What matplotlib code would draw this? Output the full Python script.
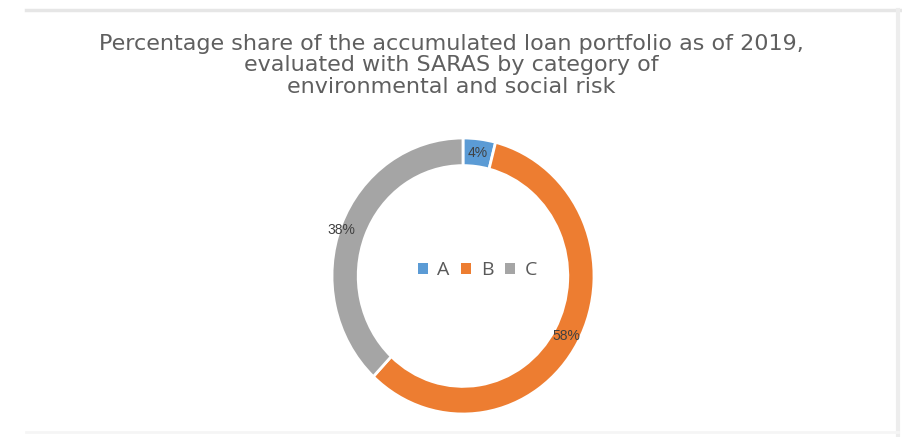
import matplotlib
matplotlib.use("Agg")
import matplotlib.pyplot as plt
from matplotlib.lines import Line2D
from matplotlib.patches import Patch

categories = ["A", "B", "C"]
shares = [4, 58, 38]
colors = ["#5B9BD5", "#ED7D31", "#A5A5A5"]
title = ("Percentage share of the accumulated loan portfolio as of 2019,\n"
         "evaluated with SARAS by category of\n"
         "environmental and social risk")

W, H = 902, 437
fig = plt.figure(figsize=(W / 100, H / 100), dpi=100)
fig.patch.set_facecolor("white")

# panel frame
fig.add_artist(Line2D([26 / W, 1.0], [1 - 10 / H, 1 - 10 / H], color="#e6e6e6",
                      linewidth=2.5, transform=fig.transFigure))
fig.add_artist(Line2D([898 / W, 898 / W], [1 - 10 / H, 0.0], color="#ededed",
                      linewidth=3, transform=fig.transFigure))
fig.add_artist(Line2D([26 / W, 898 / W], [5 / H, 5 / H], color="#f5f5f5",
                      linewidth=2, transform=fig.transFigure))

fig.text(0.5, 1 - 34 / H, title, ha="center", va="top", fontsize=16,
         family="DejaVu Sans", color="#5f5f5f", linespacing=1.08)

# doughnut
cx, cy, rx, ry = 463, 276, 131, 138
ax = fig.add_axes([(cx - rx) / W, (H - cy - ry) / H, 2 * rx / W, 2 * ry / H])
wedges, _, autotexts = ax.pie(
    shares, colors=colors, startangle=90, counterclock=False,
    wedgeprops=dict(width=0.2, edgecolor="white", linewidth=2),
    autopct=lambda p: f"{p:.0f}%", pctdistance=0.9,
    textprops=dict(fontsize=10, color="#404040", family="Liberation Sans"))
autotexts[2].set_position((-0.93, 0.33))
ax.set_aspect("auto")
ax.set_xlim(-1, 1)
ax.set_ylim(-1, 1)

handles = [Patch(facecolor=c, edgecolor="none") for c in colors]
ax.legend(handles, categories, loc="center", bbox_to_anchor=(0.555, 0.52),
          ncol=3, frameon=False, handlelength=0.5, handleheight=0.5,
          handletextpad=0.5, columnspacing=0.6,
          prop=dict(family="Open Sans", size=14), labelcolor="#595959")

fig.savefig("out.png", dpi=100, facecolor="white")
